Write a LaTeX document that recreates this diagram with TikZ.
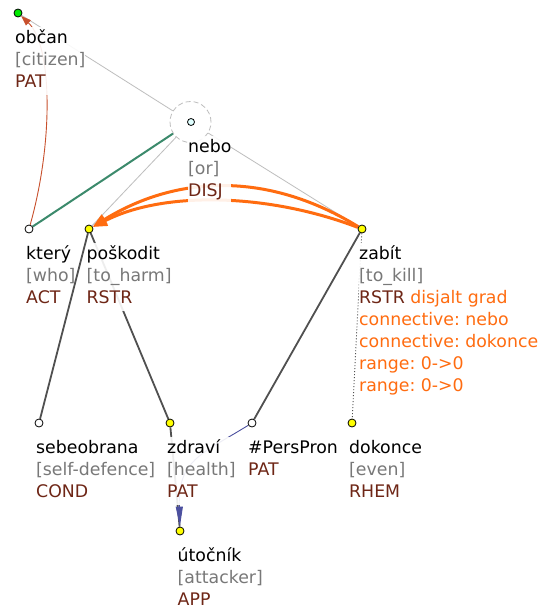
\documentclass[tikz,border=0pt]{standalone}
\usepackage{fontspec}
\setmainfont{DejaVu Sans}
\frenchspacing
\usetikzlibrary{arrows.meta,backgrounds}
\definecolor{fun}{RGB}{110,38,22}
\definecolor{trn}{RGB}{120,120,120}
\definecolor{org}{RGB}{255,108,16}
\definecolor{treeedge}{RGB}{80,80,80}
\definecolor{thinc}{RGB}{190,190,190}
\definecolor{grn}{RGB}{60,138,108}
\definecolor{corefg}{RGB}{200,80,45}
\definecolor{coreft}{RGB}{76,80,159}
\definecolor{lcyan}{RGB}{224,255,255}
\definecolor{ndgreen}{RGB}{0,235,0}
\definecolor{ndyellow}{RGB}{255,255,0}
\newcommand{\lab}[3]{\begin{tabular}[t]{@{}l@{}}#1\\\textcolor{trn}{#2}\\\textcolor{fun}{#3}\end{tabular}}
\tikzset{
  tnode/.style={circle, draw=black, line width=0.8pt, minimum size=8pt, inner sep=0pt},
  lblx/.style={anchor=base west, inner xsep=0pt, inner ysep=1pt, font=\fontsize{17.33}{22}\selectfont\frenchspacing},
  lbl/.style={lblx, fill=white, fill opacity=0.9, text opacity=1},
  tedge/.style={draw=treeedge, line width=1.8pt},
  dotedge/.style={draw=treeedge, line width=0.9pt, dash pattern=on 1pt off 2pt},
  thinedge/.style={draw=thinc, line width=0.8pt},
  grnedge/.style={draw=grn, line width=2pt},
  orgarrow/.style={draw=org, line width=3pt, -{Triangle[length=14pt,width=11pt]}},
  corefgram/.style={draw=corefg, line width=0.9pt, -{Triangle[length=10pt,width=7pt]}},
  coreftext/.style={draw=coreft, line width=0.9pt, -{Triangle[length=20pt,width=7pt]}},
}
\begin{document}
\begin{tikzpicture}[x=1pt,y=-1pt]
\useasboundingbox (0,0) rectangle (542,605);
% nodes
\node[circle, draw=thinc, line width=0.8pt, dash pattern=on 5pt off 3pt, minimum size=41pt, inner sep=0pt] (neboc) at (190.5,122) {};
\node[tnode, fill=ndgreen] (obcan) at (18,13) {};
\node[tnode, fill=lcyan, minimum size=7pt] (nebo) at (191,122) {};
\node[tnode, fill=white] (ktery) at (29,229) {};
\node[tnode, fill=ndyellow] (poskodit) at (89,229) {};
\node[tnode, fill=ndyellow] (zabit) at (362,229) {};
\node[tnode, fill=white] (sebeobrana) at (39,423) {};
\node[tnode, fill=ndyellow] (zdravi) at (170,423) {};
\node[tnode, fill=white] (perspron) at (252,423) {};
\node[tnode, fill=ndyellow] (dokonce) at (352,423) {};
\node[tnode, fill=ndyellow] (utocnik) at (180,531) {};
% labels
\node[lbl] (obcanL) at (15,43) {\lab{občan}{[citizen]}{PAT}};
\node[lbl] (neboL) at (188,152) {\lab{nebo}{[or]}{DISJ}};
\node[lblx] (kteryL) at (26,259) {\lab{který}{[who]}{ACT}};
\node[lbl] (poskoditL) at (86.5,259) {\lab{poškodit}{[to\_harm]}{RSTR}};
\node[lbl] (zabitL) at (359,259) {\lab{zabít}{[to\_kill]}{RSTR \textcolor{org}{disjalt grad}}};
\node[lblx, text=org] (zabitX) at (359,325) {\begin{tabular}[t]{@{}l@{}}connective: nebo\\connective: dokonce\\range: 0->0\\range: 0->0\end{tabular}};
\node[lbl] (sebeobranaL) at (36,453) {\lab{sebeobrana}{[self-defence]}{COND}};
\node[lbl] (zdraviL) at (167,453) {\lab{zdraví}{[health]}{PAT}};
\node[lbl] (perspronL) at (248,453) {\begin{tabular}[t]{@{}l@{}}\#PersPron\\\textcolor{fun}{PAT}\end{tabular}};
\node[lbl] (dokonceL) at (349,453) {\lab{dokonce}{[even]}{RHEM}};
\node[lbl] (utocnikL) at (177.5,561) {\lab{útočník}{[attacker]}{APP}};
% edges
\begin{scope}[on background layer]
\fill[white] (0,0) rectangle (542,605);
\draw[tedge] (poskodit) -- (sebeobrana);
\draw[tedge] (poskodit) -- (zdravi);
\draw[tedge] (zabit) -- (perspron);
\draw[tedge] (zdravi) -- (utocnik);
\draw[dotedge] (zabit) -- (dokonce);
\draw[thinedge] (obcan) -- (neboc);
\draw[thinedge] (neboc) -- (poskodit);
\draw[thinedge] (neboc) -- (zabit);
\draw[grnedge] (neboc) -- (ktery);
\draw[orgarrow] (zabit) .. controls (271,173) and (180,173) .. (poskodit);
\draw[orgarrow] (zabit) .. controls (271,194) and (165,190) .. (poskodit);
\draw[corefgram] (ktery) .. controls (54,140) and (52,45) .. (obcan);
\draw[coreftext] (perspron) .. controls (200,455) and (178,460) .. (utocnik);
\end{scope}
\end{tikzpicture}
\end{document}
